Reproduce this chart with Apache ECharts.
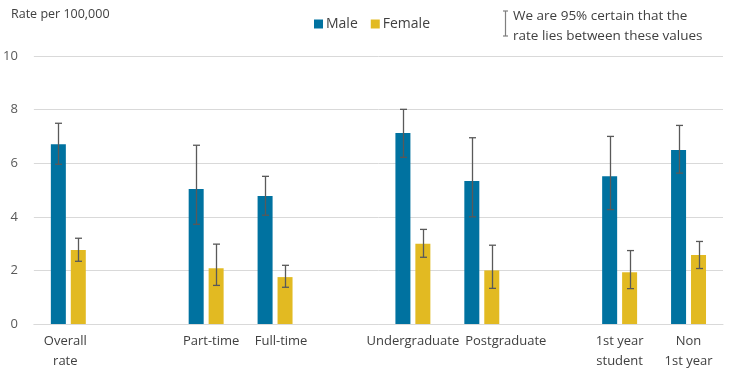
<!DOCTYPE html>
<html><head><meta charset="utf-8">
<script src="https://cdn.jsdelivr.net/npm/echarts@6/dist/echarts.min.js"></script>
<style>html,body{margin:0;padding:0;background:#fff}#c{width:737px;height:378px}</style>
</head><body><div id="c"></div>
<script>
const categories = ['Overall\nrate', '', 'Part-time', 'Full-time', '', 'Undergraduate', 'Postgraduate', '', '1st year\nstudent', 'Non\n1st year'];
const maleValues   = [6.71, null, 5.04, 4.78, null, 7.13, 5.34, null, 5.51, 6.49];
const maleLow      = [5.96, null, 3.72, 4.06, null, 6.22, 4.00, null, 4.27, 5.63];
const maleHigh     = [7.49, null, 6.67, 5.51, null, 8.01, 6.95, null, 7.00, 7.41];
const femaleValues = [2.76, null, 2.08, 1.75, null, 2.99, 2.00, null, 1.93, 2.57];
const femaleLow    = [2.34, null, 1.44, 1.37, null, 2.49, 1.33, null, 1.32, 2.07];
const femaleHigh   = [3.20, null, 2.98, 2.19, null, 3.53, 2.94, null, 2.74, 3.08];
const yTicks = [0, 2, 4, 6, 8, 10];

const FONT = '"Open Sans", "Noto Sans", sans-serif';
const MALE = '#0072a0', FEMALE = '#e2ba22', ERR = '#595959';

// horizontal nudges of category labels, as seen in the reference (pixels)
const labelShift = { 'Overall\nrate': -3, 'Part-time': 5, 'Full-time': 6, 'Postgraduate': 24 };
const categoryData = categories.map(c => {
  const s = labelShift[c];
  if (!s) return c;
  return { value: c, textStyle: { padding: s > 0 ? [0, 0, 0, 2 * s] : [0, -2 * s, 0, 0] } };
});

function errData(low, high) {
  return low.map((l, i) => l == null ? null : [i, l, high[i]]).filter(d => d);
}
function errSeries(low, high, offset) {
  return {
    type: 'custom', silent: true, z: 10,
    data: errData(low, high),
    encode: { x: 0, y: [1, 2] },
    renderItem: function (params, api) {
      const x = Math.round(api.coord([api.value(0), 0])[0] + offset) + 0.5;
      const lo = api.coord([api.value(0), api.value(1)])[1];
      const hi = api.coord([api.value(0), api.value(2)])[1];
      const w = 3.5;
      const st = { stroke: ERR, lineWidth: 1.3 };
      return { type: 'group', children: [
        { type: 'line', shape: { x1: x, y1: hi, x2: x, y2: lo }, style: st },
        { type: 'line', shape: { x1: x - w, y1: hi, x2: x + w, y2: hi }, style: st },
        { type: 'line', shape: { x1: x - w, y1: lo, x2: x + w, y2: lo }, style: st }
      ]};
    }
  };
}

const chart = echarts.init(document.getElementById('c'), null, { renderer: 'canvas' });
chart.setOption({
  animation: false,
  textStyle: { fontFamily: FONT },
  grid: { left: 33, right: 14, top: 56, bottom: 54 },
  legend: {
    left: 309, top: 12, itemWidth: 9, itemHeight: 9, itemGap: 13,
    icon: 'rect',
    textStyle: { fontFamily: FONT, fontSize: 14, color: '#404040', padding: [0, 0, 0, -2] },
    data: ['Male', 'Female']
  },
  xAxis: {
    type: 'category', data: categoryData,
    axisLine: { lineStyle: { color: '#d9d9d9', width: 1 } },
    axisTick: { show: false },
    axisLabel: { interval: 0, color: '#404040', fontSize: 13, fontFamily: FONT, lineHeight: 20, margin: 7 }
  },
  yAxis: {
    type: 'value', min: yTicks[0], max: yTicks[yTicks.length - 1], interval: 2,
    axisLine: { show: false }, axisTick: { show: false },
    axisLabel: { color: '#595959', fontSize: 13, fontFamily: FONT, margin: 16 },
    splitLine: { lineStyle: { color: '#d9d9d9', width: 1 } }
  },
  graphic: [
    { type: 'text', left: 11, top: 8, style: { text: 'Rate per 100,000', font: '12.5px ' + FONT, fill: '#404040' } },
    { type: 'line', shape: { x1: 505.5, y1: 11, x2: 505.5, y2: 36 }, style: { stroke: '#7f7f7f', lineWidth: 1.2 } },
    { type: 'line', shape: { x1: 503, y1: 11, x2: 508, y2: 11 }, style: { stroke: '#7f7f7f', lineWidth: 1.2 } },
    { type: 'line', shape: { x1: 503, y1: 36, x2: 508, y2: 36 }, style: { stroke: '#7f7f7f', lineWidth: 1.2 } },
    { type: 'text', left: 513, top: 6, style: { text: 'We are 95% certain that the\nrate lies between these values', font: '13.5px ' + FONT, lineHeight: 20, fill: '#404040' } }
  ],
  series: [
    { name: 'Male', type: 'bar', data: maleValues, barWidth: 15, barGap: '33%', itemStyle: { color: MALE } },
    { name: 'Female', type: 'bar', data: femaleValues, barWidth: 15, itemStyle: { color: FEMALE } },
    errSeries(maleLow, maleHigh, -10),
    errSeries(femaleLow, femaleHigh, 10)
  ]
});
</script></body></html>
